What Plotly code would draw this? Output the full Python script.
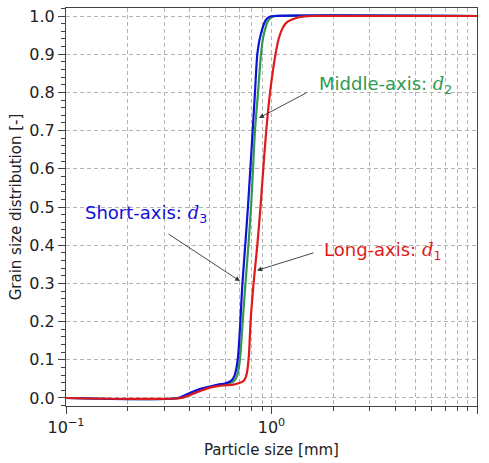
import plotly.graph_objects as go
import math

# Data (particle size in mm, cumulative fraction)
short_x = [0.1, 0.352, 0.385, 0.416, 0.46, 0.502, 0.55, 0.594, 0.616, 0.64, 0.66, 0.675, 0.688, 0.70, 0.71, 0.722, 0.745, 0.768, 0.789, 0.810, 0.831, 0.853, 0.872, 0.89, 0.91, 0.93, 0.955, 0.98, 1.03, 10.0]
short_y = [0.0, 0.0, 0.009, 0.017, 0.025, 0.030, 0.035, 0.038, 0.041, 0.046, 0.058, 0.078, 0.11, 0.17, 0.23, 0.30, 0.40, 0.50, 0.60, 0.70, 0.80, 0.90, 0.935, 0.955, 0.973, 0.986, 0.994, 0.998, 1.0, 1.0]

mid_x = [0.1, 0.359, 0.39, 0.42, 0.46, 0.502, 0.55, 0.594, 0.64, 0.66, 0.68, 0.693, 0.705, 0.714, 0.724, 0.747, 0.772, 0.795, 0.813, 0.831, 0.86, 0.889, 0.905, 0.922, 0.94, 0.953, 0.98, 1.015, 1.06, 10.0]
mid_y = [0.0, 0.0, 0.007, 0.015, 0.022, 0.029, 0.034, 0.037, 0.041, 0.046, 0.058, 0.078, 0.11, 0.15, 0.20, 0.30, 0.40, 0.50, 0.60, 0.70, 0.80, 0.90, 0.935, 0.957, 0.973, 0.983, 0.993, 0.998, 1.0, 1.0]

long_x = [0.1, 0.366, 0.39, 0.416, 0.46, 0.502, 0.55, 0.594, 0.652, 0.703, 0.735, 0.755, 0.768, 0.778, 0.791, 0.818, 0.853, 0.884, 0.912, 0.943, 0.984, 1.046, 1.09, 1.137, 1.19, 1.25, 1.345, 1.45, 1.6, 10.0]
long_y = [0.0, 0.0, 0.005, 0.011, 0.020, 0.027, 0.031, 0.033, 0.035, 0.040, 0.046, 0.06, 0.085, 0.12, 0.20, 0.30, 0.40, 0.50, 0.60, 0.70, 0.80, 0.90, 0.945, 0.97, 0.984, 0.99, 0.996, 0.999, 1.0, 1.0]

x_tickvals = [0.1, 1, 10]
x_ticktext = ["10<sup>\u22121</sup>", "10<sup>0</sup>", "10<sup>1</sup>"]
x_minorvals = [m * 0.1 for m in range(2, 10)] + [float(m) for m in range(2, 10)]
y_tickvals = [round(i * 0.1, 1) for i in range(11)]
y_ticktext = [f"{v:.1f}" for v in y_tickvals]

BLUE = "#1010d8"
GREEN = "#2e9a4e"
RED = "#e01a1a"

fig = go.Figure()
for xs, ys, col in [(mid_x, mid_y, GREEN), (short_x, short_y, BLUE), (long_x, long_y, RED)]:
    fig.add_trace(go.Scatter(x=xs, y=ys, mode="lines",
                             line=dict(color=col, width=2.2, shape="spline", smoothing=0.8),
                             showlegend=False, hoverinfo="skip"))

FONT = "DejaVu Sans"
grid_col = "#b4b4b4"
GDASH = "4px,3px"

fig.update_layout(
    width=489, height=463,
    margin=dict(l=66, r=12, t=7, b=54),
    paper_bgcolor="white", plot_bgcolor="white",
    font=dict(family=FONT, size=15, color="#222"),
    xaxis=dict(
        type="log", range=[-1, 1],
        tickvals=x_tickvals, ticktext=x_ticktext,
        ticks="outside", ticklen=7, tickcolor="#444",
        showline=True, mirror=True, linecolor="#444", linewidth=1,
        showgrid=True, gridcolor=grid_col, griddash=GDASH, gridwidth=1,
        minor=dict(tickvals=x_minorvals, ticks="outside", ticklen=4, tickcolor="#444",
                   showgrid=True, gridcolor=grid_col, griddash=GDASH),
        zeroline=False,
        title=dict(text="Particle size [mm]", font=dict(size=15), standoff=8),
        tickfont=dict(size=16),
    ),
    yaxis=dict(
        range=[-0.021, 1.021],
        tickvals=y_tickvals, ticktext=y_ticktext,
        ticks="outside", ticklen=7, tickcolor="#444",
        showline=True, mirror=True, linecolor="#444", linewidth=1,
        showgrid=True, gridcolor=grid_col, griddash=GDASH, gridwidth=1,
        minor=dict(dtick=0.02, ticks="outside", ticklen=4, tickcolor="#444", showgrid=False),
        zeroline=False,
        title=dict(text="Grain size distribution [-]", font=dict(size=15), standoff=4),
        tickfont=dict(size=16),
    ),
)

def lg(v):
    return math.log10(v)

dstyle = "font-family:'DejaVu Serif', serif; font-style:italic"

labels = [
    ("Middle-axis: ", "2", GREEN, 1.665, 0.819),
    ("Short-axis: ", "3", BLUE, 0.121, 0.482),
    ("Long-axis: ", "1", RED, 1.76, 0.386),
]
for txt, sub, col, xv, yv in labels:
    fig.add_annotation(x=lg(xv), y=yv, xref="x", yref="y",
                       text=f"{txt}<span style=\"{dstyle}\">d</span><sub>{sub}</sub>",
                       showarrow=False, xanchor="left", yanchor="middle",
                       font=dict(family=FONT, size=18, color=col))

arrows = [
    (0.869, 0.733, 49, -26),
    (0.703, 0.306, -73, -48),
    (0.850, 0.334, 58, -18),
]
for xv, yv, ax, ay in arrows:
    fig.add_annotation(x=lg(xv), y=yv, xref="x", yref="y", text="",
                       showarrow=True, ax=ax, ay=ay, arrowhead=2, arrowsize=1.1,
                       arrowwidth=0.9, arrowcolor="#333")

fig.write_html("out.html")
